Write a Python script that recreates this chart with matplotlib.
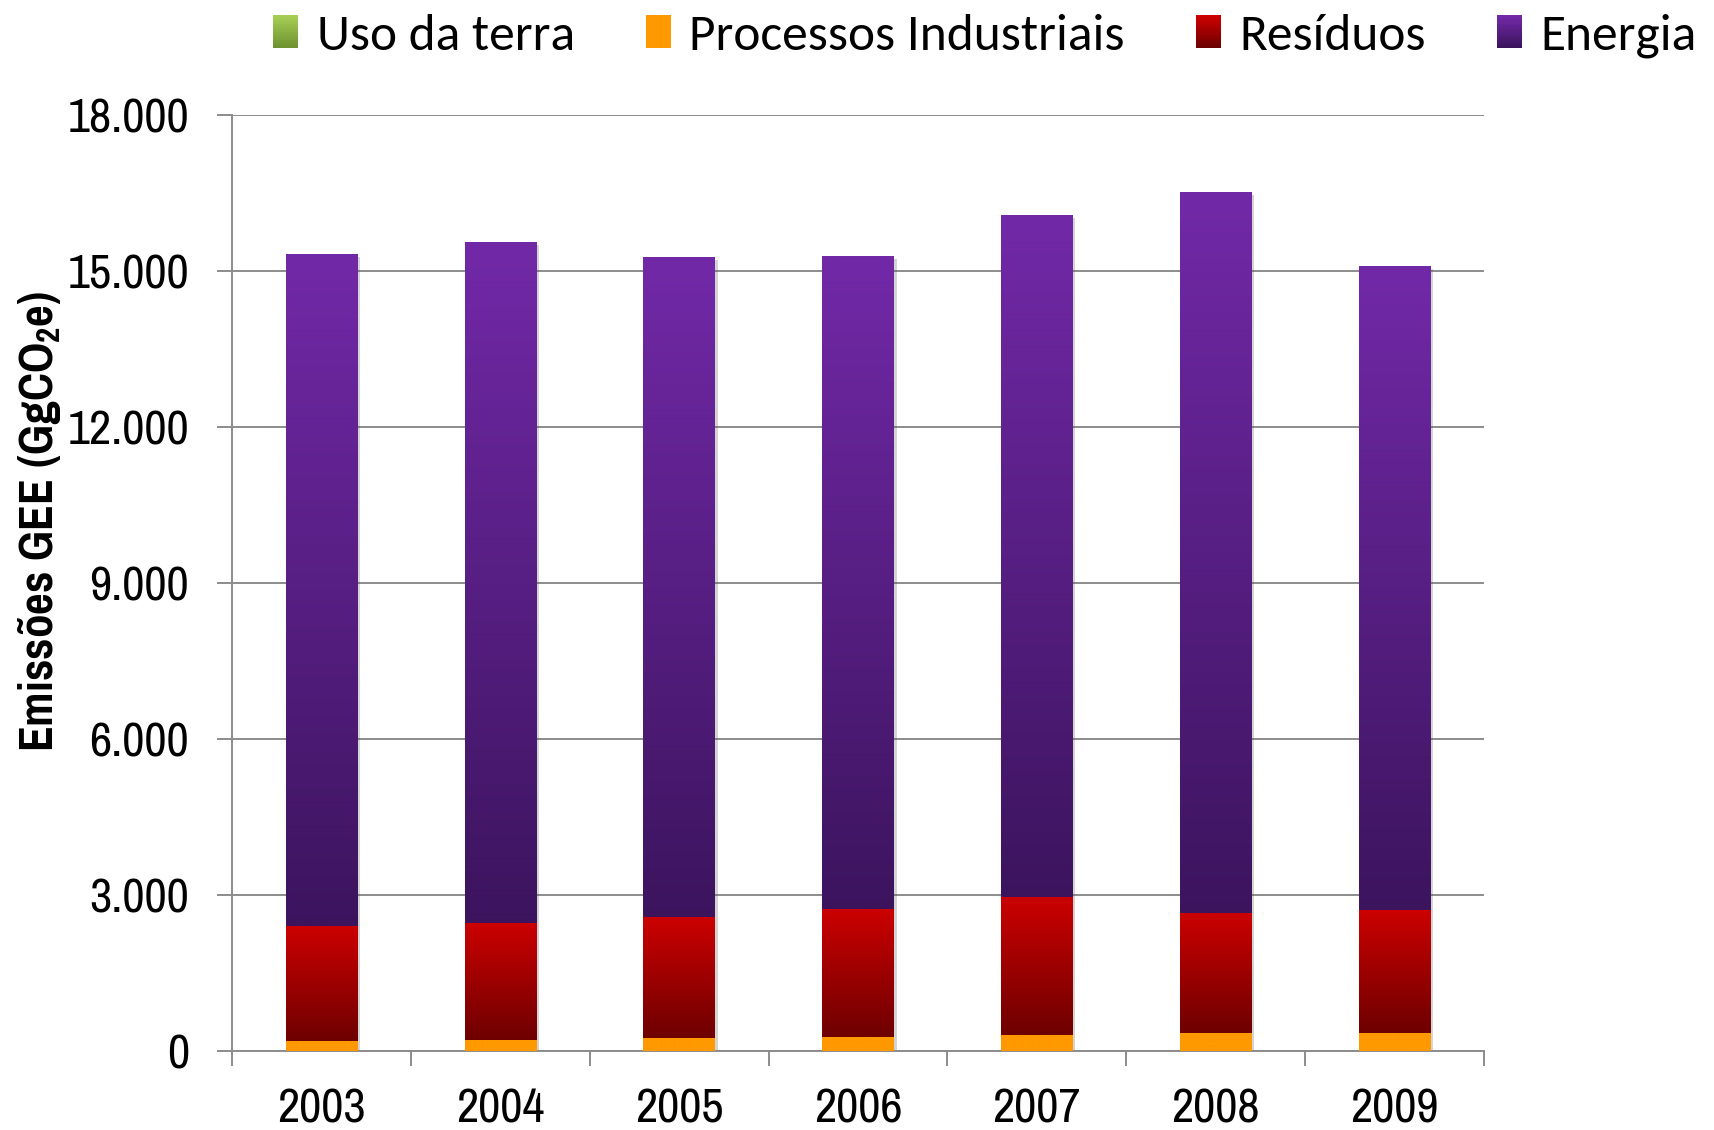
import numpy as np
import matplotlib
matplotlib.use("Agg")
import matplotlib.pyplot as plt
from matplotlib.colors import LinearSegmentedColormap, to_rgb
from matplotlib.patches import Rectangle
from matplotlib.legend_handler import HandlerBase
import matplotlib.patheffects as pe

# ---- data (GgCO2e) ----
years = ["2003", "2004", "2005", "2006", "2007", "2008", "2009"]
uso_da_terra = [0, 0, 0, 0, 0, 0, 0]
processos_industriais = [200, 210, 245, 270, 300, 340, 350]
residuos = [2200, 2260, 2325, 2470, 2660, 2310, 2370]
energia = [12930, 13090, 12700, 12550, 13120, 13870, 12380]
series_names = ["Uso da terra", "Processos Industriais", "Resíduos", "Energia"]
y_ticks = [0, 3000, 6000, 9000, 12000, 15000, 18000]
y_tick_labels = ["0", "3.000", "6.000", "9.000", "12.000", "15.000", "18.000"]

# ---- styles ----
grad = {
    "Uso da terra": ("#A6CE55", "#6E9330"),
    "Processos Industriais": ("#FF9900", "#FF9900"),
    "Resíduos": ("#CC0000", "#6E0000"),
    "Energia": ("#7229A8", "#3C145E"),
}

narrow = ["Pragati Narrow", "Archivo Narrow", "DejaVu Sans"]
plt.rcParams["mathtext.fontset"] = "custom"
plt.rcParams["mathtext.rm"] = "Pragati Narrow:bold"
plt.rcParams["mathtext.default"] = "rm"

fig = plt.figure(figsize=(17.15, 11.30), dpi=100)
ax = fig.add_axes([232 / 1715, 79 / 1130, 1252 / 1715, 936 / 1130])

x = np.arange(len(years))
width = 0.4
bottom = np.zeros(len(years))
data = [uso_da_terra, processos_industriais, residuos, energia]

def gradient_fill(patch, top_col, bot_col):
    bx, by = patch.get_x(), patch.get_y()
    w, h = patch.get_width(), patch.get_height()
    if h <= 0:
        return
    cmap = LinearSegmentedColormap.from_list("g", [bot_col, top_col])
    img = np.linspace(0, 1, 256).reshape(-1, 1)
    im = ax.imshow(img, cmap=cmap, aspect="auto", origin="lower",
                   extent=[bx, bx + w, by, by + h], zorder=3,
                   interpolation="bilinear")
    im.set_clip_path(patch)

for name, vals in zip(series_names, data):
    vals = np.array(vals, dtype=float)
    bars = ax.bar(x, vals, width, bottom=bottom, color=grad[name][0],
                  edgecolor="none", zorder=2,
                  path_effects=[pe.SimplePatchShadow(offset=(2, -2), alpha=0.25,
                                                     shadow_rgbFace="#555555"),
                                pe.Normal()])
    for p in bars:
        gradient_fill(p, grad[name][0], grad[name][1])
    bottom += vals

ax.set_xlim(-0.5, len(years) - 0.5)
ax.set_ylim(0, 18000)
ax.set_yticks(y_ticks)
ax.set_yticklabels(y_tick_labels, family=narrow, fontsize=38)
ax.set_xticks(x)
ax.set_xticklabels(years, family=narrow, fontsize=38)
ax.set_xticks(np.arange(len(years) + 1) - 0.5, minor=True)
ax.tick_params(axis="x", which="major", length=0, pad=26)
ax.tick_params(axis="x", which="minor", length=11, width=1.4, color="#8C8C8C", direction="out")
ax.tick_params(axis="y", which="major", length=11, width=1.4, color="#8C8C8C",
               direction="out", pad=20)
ax.grid(axis="y", color="#8C8C8C", linewidth=1.4, zorder=0)
ax.set_axisbelow(True)
for s in ["top", "right"]:
    ax.spines[s].set_visible(False)
for s in ["left", "bottom"]:
    ax.spines[s].set_color("#8C8C8C")
    ax.spines[s].set_linewidth(1.4)

ax.set_ylabel("Emissões GEE (GgCO$_2$e)", family=narrow, fontweight="bold", fontsize=37)
ax.yaxis.set_label_coords(-0.135, 0.566)

# ---- legend with gradient squares ----
class GradHandler(HandlerBase):
    def create_artists(self, legend, orig_handle, xdescent, ydescent, width, height, fontsize, trans):
        top_col, bot_col = orig_handle.get_gid()
        n = 20
        arts = []
        c0, c1 = np.array(to_rgb(bot_col)), np.array(to_rgb(top_col))
        for i in range(n):
            f = i / (n - 1)
            c = c0 + (c1 - c0) * f
            r = Rectangle((-xdescent, -ydescent + height * i / n), width, height / n + 0.3,
                          facecolor=c, edgecolor="none", transform=trans)
            arts.append(r)
        return arts

handles = []
for name in series_names:
    h = Rectangle((0, 0), 1, 1)
    h.set_gid(grad[name])
    handles.append(h)

leg = fig.legend(handles, series_names, loc="center left",
                 bbox_to_anchor=(273 / 1715, 1 - 36 / 1130), ncol=4,
                 frameon=False, prop={"family": "Carlito", "size": 37},
                 handler_map={Rectangle: GradHandler()},
                 handlelength=0.49, handleheight=0.58, handletextpad=0.36,
                 columnspacing=1.38, borderpad=0, borderaxespad=0)

fig.savefig("out.png", dpi=100)
